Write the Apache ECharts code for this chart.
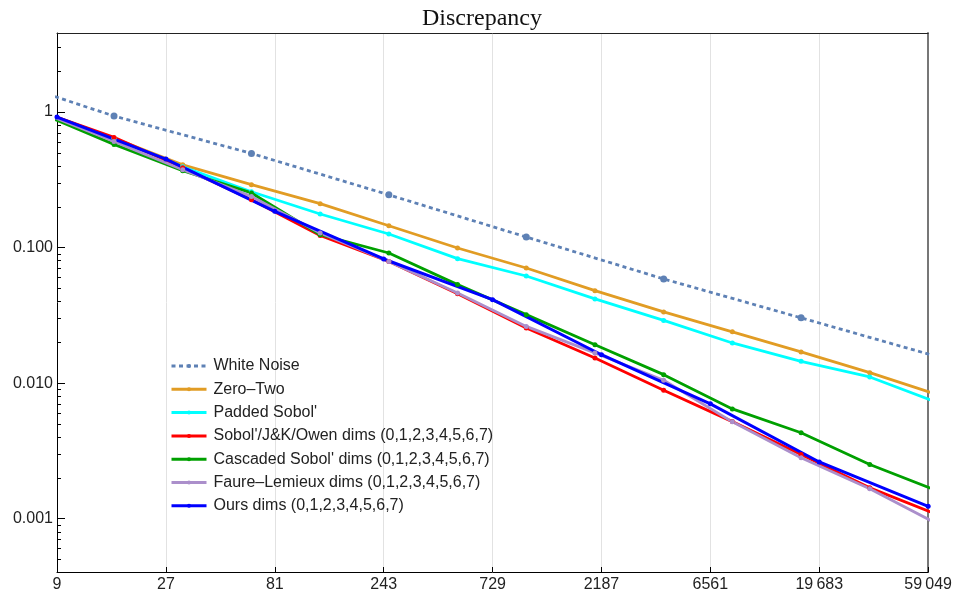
<!DOCTYPE html>
<html><head><meta charset="utf-8">
<script src="https://cdn.jsdelivr.net/npm/echarts@6/dist/echarts.min.js"></script>
<style>html,body{margin:0;padding:0;background:#fff}#c{width:955px;height:594px}</style>
</head><body><div id="c"></div>
<script>
// sample counts
const nPow2 = [8,16,32,64,128,256,512,1024,2048,4096,8192,16384,32768,65536];
const nPow3 = [9,27,81,243,729,2187,6561,19683,59049];
const nPow4 = [4,16,64,256,1024,4096,16384,65536];

// series values
const whiteNoise = [2.02, 0.934, 0.495, 0.245, 0.1197, 0.0587, 0.0303, 0.0156];
const zeroTwo    = [0.98, 0.64, 0.408, 0.291, 0.211, 0.145, 0.0993, 0.0707, 0.0481, 0.0335, 0.0239, 0.0170, 0.01195, 0.00817];
const paddedSobol= [0.98, 0.64, 0.395, 0.258, 0.177, 0.126, 0.0828, 0.0617, 0.0418, 0.029, 0.01978, 0.01448, 0.0111, 0.00714];
const sobolOwen  = [0.985, 0.650, 0.388, 0.2256, 0.123, 0.079, 0.0457, 0.0255, 0.01534, 0.00885, 0.0052, 0.00297, 0.001687, 0.00106];
const cascaded   = [0.947, 0.577, 0.369, 0.253, 0.1245, 0.0912, 0.0533, 0.032, 0.0192, 0.01155, 0.00645, 0.0043, 0.00251, 0.00159];
const faure      = [0.97, 0.607, 0.375, 0.2386, 0.128, 0.0791, 0.0463, 0.0262, 0.0167, 0.0105, 0.00518, 0.00281, 0.00166, 0.000906];
const ours       = [0.918, 0.450, 0.185, 0.0824, 0.0413, 0.0162, 0.00703, 0.00262, 0.001234];

const seriesNames = ['White Noise', 'Zero\u2013Two', "Padded Sobol'",
  "Sobol'/J&K/Owen dims (0,1,2,3,4,5,6,7)", "Cascaded Sobol' dims (0,1,2,3,4,5,6,7)",
  'Faure\u2013Lemieux dims (0,1,2,3,4,5,6,7)', 'Ours dims (0,1,2,3,4,5,6,7)'];

// tick labels
const xTicks = [9,27,81,243,729,2187,6561,19683,59049];
const yTicks = [0.001, 0.01, 0.1, 1];
const yMinorTicks = [];
[-4,-3,-2,-1,0].forEach(e => { for (let k = 2; k <= 9; k++) yMinorTicks.push(k * Math.pow(10, e)); });

const X_MIN = 9, X_MAX = 59049, Y_MIN = 0.000404, Y_MAX = 3.83;
const SANS = 'Liberation Sans, Arial, sans-serif';

function pairs(xs, ys) { return xs.map((x, i) => [x, ys[i]]); }
function mk(name, xs, ys, color, opts) {
  opts = opts || {};
  return {
    name, type: 'line', data: pairs(xs, ys), xAxisIndex: 0, yAxisIndex: 0,
    symbol: 'circle', symbolSize: opts.symbolSize || 5, showSymbol: true,
    lineStyle: { color, width: opts.width || 2.8, type: opts.dash || 'solid', cap: 'butt' },
    itemStyle: { color }, clip: true, animation: false, emphasis: { disabled: true }
  };
}

const chart = echarts.init(document.getElementById('c'), null, { renderer: 'canvas' });
chart.setOption({
  backgroundColor: '#fff',
  animation: false,
  title: {
    text: 'Discrepancy', left: 417, top: 2,
    textStyle: { fontFamily: 'Liberation Serif, Times New Roman, serif', fontSize: 24, fontWeight: 'normal', color: '#111' }
  },
  grid: { left: 57, right: 26, top: 33, bottom: 22, containLabel: false },
  legend: {
    orient: 'vertical', left: 170, top: 358, padding: 0, itemWidth: 35, itemHeight: 5, itemGap: 7.3,
    selectedMode: false, data: seriesNames,
    lineStyle: { width: 3 },
    textStyle: { fontFamily: SANS, fontSize: 16, color: '#222', padding: [0, 0, 0, 2] }
  },
  xAxis: [
    { type: 'log', logBase: 3, min: X_MIN, max: X_MAX, position: 'bottom',
      axisLine: { show: true, onZero: false, lineStyle: { color: '#000', width: 1 } },
      axisTick: { show: true, inside: true, length: 5, customValues: xTicks, lineStyle: { color: '#000' } },
      axisLabel: { customValues: xTicks, fontFamily: SANS, fontSize: 16, color: '#222', margin: 5,
        formatter: v => { const s = String(Math.round(v)); return s.length > 4 ? s.slice(0, s.length - 3) + '\u2009' + s.slice(-3) : s; } },
      splitLine: { show: true, lineStyle: { color: '#e2e2e2', width: 1 } }, minorTick: { show: false } },
    { type: 'log', logBase: 3, min: X_MIN, max: X_MAX, position: 'top',
      axisLine: { show: true, onZero: false, lineStyle: { color: '#222', width: 1 } },
      axisTick: { show: false }, axisLabel: { show: false }, splitLine: { show: false } }
  ],
  yAxis: [
    { type: 'log', logBase: 10, min: Y_MIN, max: Y_MAX, position: 'left',
      axisLine: { show: true, onZero: false, lineStyle: { color: '#000', width: 1 } },
      axisTick: { show: true, inside: true, length: 8, customValues: yTicks, lineStyle: { color: '#000' } },
      axisLabel: { customValues: yTicks, fontFamily: SANS, fontSize: 16, color: '#222', margin: 4,
        formatter: v => v >= 1 ? String(Math.round(v)) : v.toFixed(3) },
      splitLine: { show: false } },
    { type: 'log', logBase: 10, min: Y_MIN, max: Y_MAX, position: 'left',
      axisLine: { show: false }, axisLabel: { show: false }, splitLine: { show: false },
      axisTick: { show: true, inside: true, length: 4, customValues: yMinorTicks, lineStyle: { color: '#000' } } },
    { type: 'log', logBase: 10, min: Y_MIN, max: Y_MAX, position: 'right',
      axisLine: { show: true, onZero: false, lineStyle: { color: '#777', width: 2 } },
      axisTick: { show: false }, axisLabel: { show: false }, splitLine: { show: false } }
  ],
  series: [
    mk(seriesNames[0], nPow4, whiteNoise, '#5e81b5', { dash: [4, 3.5], symbolSize: 7 }),
    mk(seriesNames[1], nPow2, zeroTwo, '#e19c24'),
    mk(seriesNames[2], nPow2, paddedSobol, '#00ffff'),
    mk(seriesNames[3], nPow2, sobolOwen, '#ff0000'),
    mk(seriesNames[4], nPow2, cascaded, '#00a000'),
    mk(seriesNames[5], nPow2, faure, '#ab8fcb'),
    mk(seriesNames[6], nPow3, ours, '#0000ff', { width: 3 })
  ]
});
</script></body></html>
